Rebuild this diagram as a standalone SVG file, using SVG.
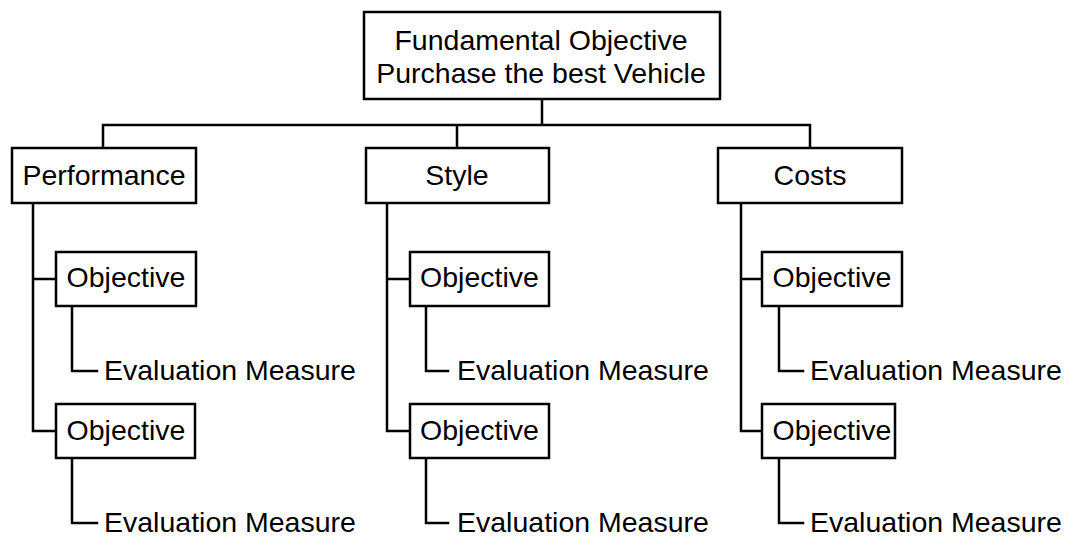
<svg xmlns="http://www.w3.org/2000/svg" width="1065" height="537" viewBox="0 0 1065 537">
<style>
.box{fill:#fff;stroke:#000;stroke-width:2.5}
.ln{fill:none;stroke:#000;stroke-width:2.5;stroke-linejoin:miter;stroke-linecap:square}
text{font-family:"Liberation Sans",Arial,Helvetica,sans-serif;font-size:28.5px;fill:#000}
.c{text-anchor:middle}
</style>
<rect width="1065" height="537" fill="#fff"/>
<g id="connectors">
<path class="ln" d="M542,99V125M103,125H810M103,125V148M457,125V148M810,125V148"/>
<path class="ln" d="M33,203V431H56M33,279H56M72,306V371H97M72,458V523H97"/>
<path class="ln" d="M387,203V431H410M387,279H410M426,306V371H448M426,458V523H448"/>
<path class="ln" d="M741,203V431H762M741,279H762M779,306V371H803M779,458V523H803"/>
</g>
<g id="root"><rect class="box" x="364" y="12" width="356" height="87"/><text class="c" x="541" y="50">Fundamental Objective</text><text class="c" x="541" y="83">Purchase the best Vehicle</text></g>
<g id="performance"><rect class="box" x="12" y="148" width="184" height="55"/><text class="c" x="104" y="185">Performance</text></g>
<g id="style"><rect class="box" x="366" y="148" width="183" height="55"/><text class="c" x="457" y="185">Style</text></g>
<g id="costs"><rect class="box" x="718" y="148" width="184" height="55"/><text class="c" x="810" y="185">Costs</text></g>
<g id="perf-obj1"><rect class="box" x="56" y="252" width="140" height="54"/><text class="c" x="126" y="287">Objective</text></g>
<g id="perf-eval1"><text x="104" y="380">Evaluation Measure</text></g>
<g id="perf-obj2"><rect class="box" x="56" y="404" width="139" height="54"/><text class="c" x="126" y="440">Objective</text></g>
<g id="perf-eval2"><text x="104" y="532">Evaluation Measure</text></g>
<g id="style-obj1"><rect class="box" x="410" y="252" width="139" height="54"/><text class="c" x="479.5" y="287">Objective</text></g>
<g id="style-eval1"><text x="457" y="380">Evaluation Measure</text></g>
<g id="style-obj2"><rect class="box" x="410" y="404" width="139" height="54"/><text class="c" x="479.5" y="440">Objective</text></g>
<g id="style-eval2"><text x="457" y="532">Evaluation Measure</text></g>
<g id="costs-obj1"><rect class="box" x="762" y="252" width="140" height="54"/><text class="c" x="832" y="287">Objective</text></g>
<g id="costs-eval1"><text x="810" y="380">Evaluation Measure</text></g>
<g id="costs-obj2"><rect class="box" x="762" y="404" width="133" height="54"/><text class="c" x="832" y="440">Objective</text></g>
<g id="costs-eval2"><text x="810" y="532">Evaluation Measure</text></g>
</svg>
